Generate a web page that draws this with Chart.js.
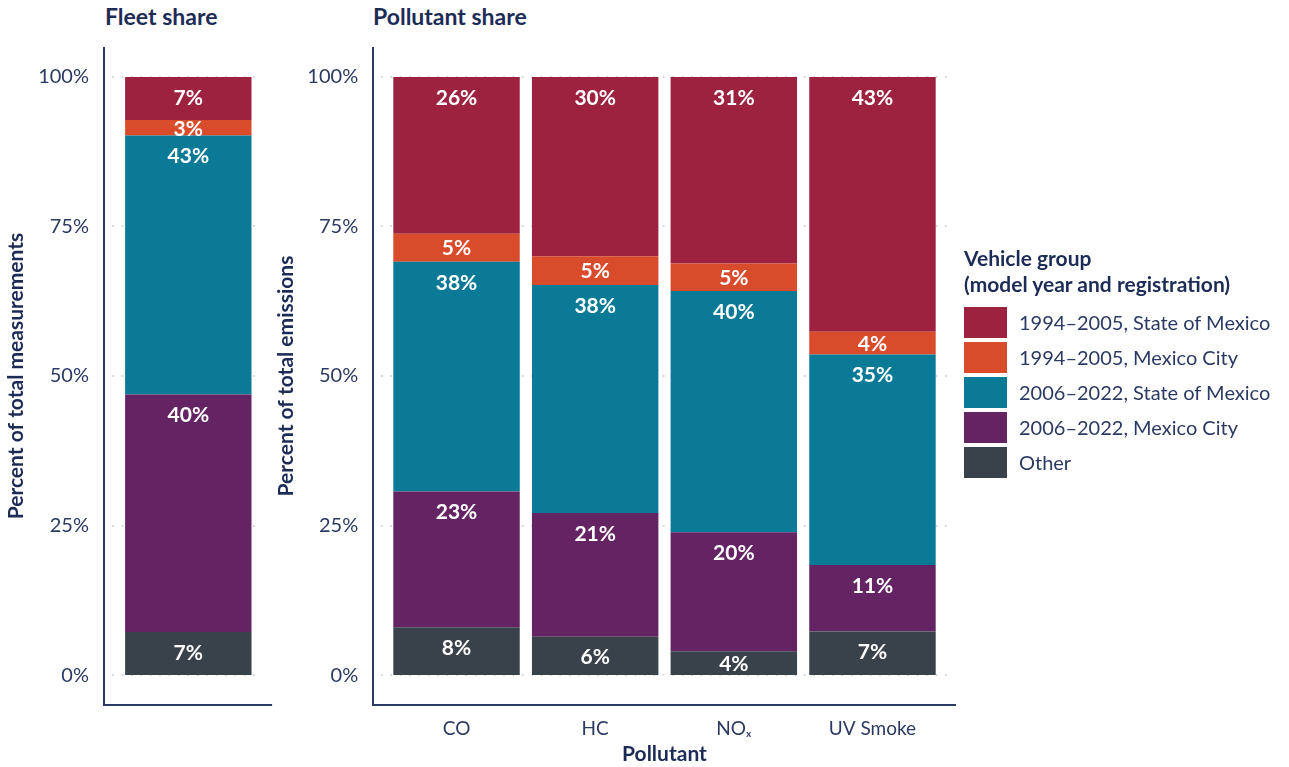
<!DOCTYPE html>
<html>
<head>
<meta charset="utf-8">
<script src="https://cdn.jsdelivr.net/npm/chart.js@4"></script>
<style>
  body { margin: 0; background: #fff; font-family: Lato, "Open Sans", sans-serif; color: #1d2c57; }
  #page { position: relative; width: 1289px; height: 767px; overflow: hidden; }
  canvas { position: absolute; top: 0; }
  .panel-title { position: absolute; top: 5px; font-size: 23px; line-height: 23px; font-weight: 700; }
  #legend { position: absolute; left: 964px; top: 245px; }
  #legend .lt { font-size: 21px; line-height: 26px; font-weight: 700; margin-bottom: 9.5px; }
  #legend .item { height: 31px; margin-bottom: 4px; position: relative; }
  #legend .sw { position: absolute; left: 0; top: 0; width: 43px; height: 31px; }
  #legend .tx { position: absolute; left: 55px; top: 0; line-height: 31px; font-size: 20px; color: #2b3a63; white-space: nowrap; }
</style>
</head>
<body>
<div id="page">
  <div class="panel-title" style="left:105px">Fleet share</div>
  <div class="panel-title" style="left:373px">Pollutant share</div>
  <canvas id="fleet" width="290" height="767" style="left:0"></canvas>
  <canvas id="pollutant" width="720" height="767" style="left:270px"></canvas>
  <div id="legend">
    <div class="lt">Vehicle group<br>(model year and registration)</div>
  </div>
</div>
<script>
// series, listed top of stack first (same order as the legend)
var seriesLabels = ['1994\u20132005, State of Mexico', '1994\u20132005, Mexico City',
                    '2006\u20132022, State of Mexico', '2006\u20132022, Mexico City', 'Other'];
var seriesColors = ['#9c2240', '#d84b2b', '#0b7a96', '#642464', '#39424a'];

// fleet share, one value per series
var fleetShare = [7.2, 2.6, 43.3, 39.7, 7.2];

// pollutant share
var pollutants = ['CO', 'HC', 'NO\u2093', 'UV Smoke'];
var sm1994 = [26.2, 30.0, 31.2, 42.6];
var mc1994 = [4.7, 4.8, 4.6, 3.8];
var sm2006 = [38.4, 38.1, 40.3, 35.2];
var mc2006 = [22.7, 20.7, 19.9, 11.1];
var other  = [8.0, 6.4, 4.0, 7.3];
var pollutantShare = [sm1994, mc1994, sm2006, mc2006, other];

var yTicks = [0, 25, 50, 75, 100];

var navy = '#1d2c57';
var tickColor = '#2b3a63';
Chart.defaults.font.family = 'Lato, "Open Sans", sans-serif';

// dotted gridlines and the L shaped axis, drawn a bit outside the bars
var frame = {
    id: 'frame',
    beforeDatasetsDraw: function(chart, args, opts) {
        var ctx = chart.ctx, area = chart.chartArea, y = chart.scales.y;
        ctx.save();
        ctx.strokeStyle = '#cfcfcf';
        ctx.lineWidth = 1.8;
        ctx.lineCap = 'round';
        ctx.setLineDash([0.1, 9.3]);
        yTicks.forEach(function(v) {
            var py = Math.round(y.getPixelForValue(v));
            ctx.beginPath();
            ctx.moveTo(area.left - opts.gridLeft, py);
            ctx.lineTo(area.right + opts.gridRight, py);
            ctx.stroke();
        });
        ctx.setLineDash([]);
        ctx.lineCap = 'butt';
        ctx.strokeStyle = '#2a3a64';
        ctx.lineWidth = 2;
        ctx.beginPath();
        ctx.moveTo(area.left - opts.axisLeft, area.top);
        ctx.lineTo(area.left - opts.axisLeft, area.bottom);
        ctx.lineTo(area.right + opts.axisRight, area.bottom);
        ctx.stroke();
        ctx.restore();
    }
};

// percent labels inside every segment
var segmentLabels = {
    id: 'segmentLabels',
    afterDatasetsDraw: function(chart) {
        var ctx = chart.ctx;
        ctx.save();
        ctx.fillStyle = '#ffffff';
        ctx.font = '700 21px Lato, "Open Sans", sans-serif';
        ctx.textAlign = 'center';
        ctx.textBaseline = 'middle';
        chart.data.datasets.forEach(function(ds, i) {
            chart.getDatasetMeta(i).data.forEach(function(bar, j) {
                var p = bar.getProps(['x', 'y', 'base'], true);
                var top = Math.min(p.y, p.base);
                var h = Math.abs(p.base - p.y);
                ctx.fillText(Math.round(ds.data[j]) + '%', p.x, top + Math.min(h / 2, 20) + 1);
            });
        });
        ctx.restore();
    }
};

function makeDatasets(values) {
    // bottom of the stack first
    var sets = [];
    for (var i = seriesLabels.length - 1; i >= 0; i--) {
        sets.push({
            label: seriesLabels[i],
            data: values[i],
            backgroundColor: seriesColors[i],
            borderWidth: 0,
            barPercentage: 0.912,
            categoryPercentage: 1
        });
    }
    return sets;
}

function makeOptions(o) {
    return {
        responsive: false,
        animation: false,
        events: [],
        layout: { padding: { top: 47, right: o.padRight, bottom: 0, left: 0 } },
        plugins: {
            legend: { display: false },
            tooltip: { enabled: false },
            frame: o.frame
        },
        scales: {
            x: {
                stacked: true,
                grid: { display: false, drawTicks: false },
                border: { display: false },
                ticks: { display: o.showX, color: tickColor, padding: 12, font: { size: 19 } },
                title: { display: o.showX, text: 'Pollutant', color: navy, padding: { top: 0, bottom: 0 }, font: { size: 21, weight: '700' } },
                afterFit: function(s) { s.height = 62; }
            },
            y: {
                stacked: true,
                min: -5,
                max: 105,
                grid: { display: false, drawTicks: false },
                border: { display: false },
                afterBuildTicks: function(s) { s.ticks = yTicks.map(function(v) { return { value: v }; }); },
                afterFit: function(s) { s.width = o.axisWidth; },
                ticks: {
                    color: tickColor,
                    padding: o.tickPad,
                    font: { size: 20 },
                    callback: function(v) { return v + '%'; }
                },
                title: { display: true, text: o.yTitle, color: navy, padding: { top: 4, bottom: 0 }, font: { size: 21, weight: '700' } }
            }
        }
    };
}

new Chart(document.getElementById('fleet'), {
    type: 'bar',
    data: {
        labels: ['Fleet'],
        datasets: makeDatasets(fleetShare.map(function(v) { return [v]; }))
    },
    options: makeOptions({
        padRight: 32.4, axisWidth: 119, tickPad: 30, showX: false,
        yTitle: 'Percent of total measurements',
        frame: { gridLeft: 6, gridRight: 5.5, axisLeft: 15, axisRight: 14.5 }
    }),
    plugins: [frame, segmentLabels]
});

new Chart(document.getElementById('pollutant'), {
    type: 'bar',
    data: {
        labels: pollutants,
        datasets: makeDatasets(pollutantShare)
    },
    options: makeOptions({
        padRight: 48.2, axisWidth: 117.2, tickPad: 29, showX: true,
        yTitle: 'Percent of total emissions',
        frame: { gridLeft: 5.5, gridRight: 12, axisLeft: 14.2, axisRight: 14.2 }
    }),
    plugins: [frame, segmentLabels]
});

// html legend, same order as the series arrays
var legend = document.getElementById('legend');
seriesLabels.forEach(function(label, i) {
    var item = document.createElement('div');
    item.className = 'item';
    item.innerHTML = '<span class="sw" style="background:' + seriesColors[i] + '"></span><span class="tx"></span>';
    item.querySelector('.tx').textContent = label;
    legend.appendChild(item);
});
</script>
</body>
</html>
